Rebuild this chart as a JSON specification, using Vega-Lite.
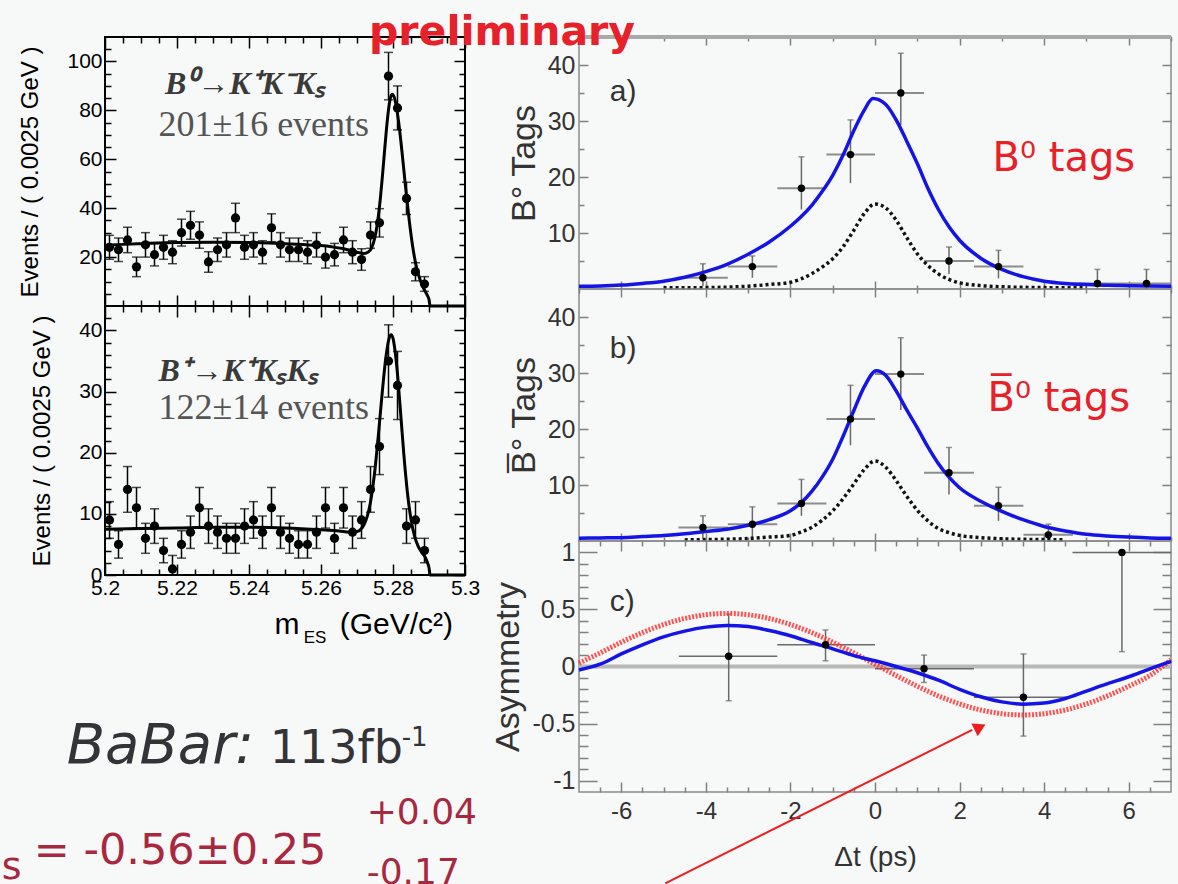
{
"$schema": "https://vega.github.io/schema/vega-lite/v6.json",
"background": "#f6f9f7",
"padding": {"left": 0, "top": 11, "right": 0, "bottom": 0},
"config": {"axis": {"grid": false, "domain": false}},
"datasets": {
"l1pts": [
{"m":5.20125,"n":24,"lo":19.1,"hi":28.9},{"m":5.20375,"n":23,"lo":18.2,"hi":27.8},{"m":5.20625,"n":27,"lo":21.8,"hi":32.2},{"m":5.20875,"n":16,"lo":12,"hi":20},
{"m":5.21125,"n":25,"lo":20,"hi":30},{"m":5.21375,"n":21,"lo":16.4,"hi":25.6},{"m":5.21625,"n":24,"lo":19.1,"hi":28.9},{"m":5.21875,"n":22,"lo":17.3,"hi":26.7},
{"m":5.22125,"n":30,"lo":24.5,"hi":35.5},{"m":5.22375,"n":33,"lo":27.3,"hi":38.7},{"m":5.22625,"n":29,"lo":23.6,"hi":34.4},{"m":5.22875,"n":18,"lo":13.8,"hi":22.2},
{"m":5.23125,"n":23,"lo":18.2,"hi":27.8},{"m":5.23375,"n":25,"lo":20,"hi":30},{"m":5.23625,"n":36,"lo":30,"hi":42},{"m":5.23875,"n":24,"lo":19.1,"hi":28.9},
{"m":5.24125,"n":25,"lo":20,"hi":30},{"m":5.24375,"n":22,"lo":17.3,"hi":26.7},{"m":5.24625,"n":32,"lo":26.3,"hi":37.7},{"m":5.24875,"n":25,"lo":20,"hi":30},
{"m":5.25125,"n":23,"lo":18.2,"hi":27.8},{"m":5.25375,"n":23,"lo":18.2,"hi":27.8},{"m":5.25625,"n":22,"lo":17.3,"hi":26.7},{"m":5.25875,"n":25,"lo":20,"hi":30},
{"m":5.26125,"n":20,"lo":15.5,"hi":24.5},{"m":5.26375,"n":21,"lo":16.4,"hi":25.6},{"m":5.26625,"n":27,"lo":21.8,"hi":32.2},{"m":5.26875,"n":22,"lo":17.3,"hi":26.7},
{"m":5.27125,"n":19,"lo":14.6,"hi":23.4},{"m":5.27375,"n":29,"lo":23.6,"hi":34.4},{"m":5.27625,"n":34,"lo":28.2,"hi":39.8},{"m":5.27875,"n":94,"lo":84.3,"hi":103.7},
{"m":5.28125,"n":81,"lo":72,"hi":90},{"m":5.28375,"n":44,"lo":37.4,"hi":50.6},{"m":5.28625,"n":14,"lo":10.3,"hi":17.7},{"m":5.28875,"n":9,"lo":6,"hi":12}
],
"l1fit": [
{"m":5.2,"f":24.8},{"m":5.205,"f":25.2},{"m":5.21,"f":25.5},{"m":5.22,"f":26.0},{"m":5.23,"f":26.1},{"m":5.24,"f":26.0},{"m":5.25,"f":25.5},{"m":5.255,"f":25.1},
{"m":5.26,"f":24.7},{"m":5.263,"f":24.2},{"m":5.266,"f":23.5},{"m":5.268,"f":22.8},{"m":5.27,"f":22.0},{"m":5.272,"f":21.5},{"m":5.273,"f":22.0},{"m":5.274,"f":23.6},
{"m":5.275,"f":28.2},{"m":5.276,"f":37.5},{"m":5.2765,"f":44.2},{"m":5.277,"f":52.1},{"m":5.2775,"f":60.7},{"m":5.278,"f":69.3},{"m":5.2785,"f":77.0},{"m":5.279,"f":82.9},
{"m":5.2795,"f":86.1},{"m":5.2798,"f":86.6},{"m":5.2805,"f":84.6},{"m":5.2815,"f":76.0},{"m":5.2825,"f":63.0},{"m":5.2835,"f":48.5},{"m":5.2845,"f":35.1},{"m":5.2855,"f":24.0},
{"m":5.2865,"f":16.0},{"m":5.2875,"f":10.8},{"m":5.2885,"f":7.2},{"m":5.2895,"f":4.4},{"m":5.29,"f":2.7},{"m":5.2903,"f":0},{"m":5.3,"f":0}
],
"l2pts": [
{"m":5.20125,"n":9,"lo":6,"hi":12},{"m":5.20375,"n":5,"lo":2.76,"hi":7.24},{"m":5.20625,"n":14,"lo":10.26,"hi":17.74},{"m":5.20875,"n":11,"lo":7.68,"hi":14.32},
{"m":5.21125,"n":6,"lo":3.55,"hi":8.45},{"m":5.21375,"n":8,"lo":5.17,"hi":10.83},{"m":5.21625,"n":4,"lo":2,"hi":6},{"m":5.21875,"n":1,"lo":0,"hi":3.2},
{"m":5.22125,"n":5,"lo":2.76,"hi":7.24},{"m":5.22375,"n":7,"lo":4.35,"hi":9.65},{"m":5.22625,"n":11,"lo":7.68,"hi":14.32},{"m":5.22875,"n":8,"lo":5.17,"hi":10.83},
{"m":5.23125,"n":7,"lo":4.35,"hi":9.65},{"m":5.23375,"n":6,"lo":3.55,"hi":8.45},{"m":5.23625,"n":6,"lo":3.55,"hi":8.45},{"m":5.23875,"n":8,"lo":5.17,"hi":10.83},
{"m":5.24125,"n":9,"lo":6,"hi":12},{"m":5.24375,"n":7,"lo":4.35,"hi":9.65},{"m":5.24625,"n":11,"lo":7.68,"hi":14.32},{"m":5.24875,"n":7,"lo":4.35,"hi":9.65},
{"m":5.25125,"n":6,"lo":3.55,"hi":8.45},{"m":5.25375,"n":5,"lo":2.76,"hi":7.24},{"m":5.25625,"n":5,"lo":2.76,"hi":7.24},{"m":5.25875,"n":7,"lo":4.35,"hi":9.65},
{"m":5.26125,"n":11,"lo":7.68,"hi":14.32},{"m":5.26375,"n":6,"lo":3.55,"hi":8.45},{"m":5.26625,"n":11,"lo":7.68,"hi":14.32},{"m":5.26875,"n":7,"lo":4.35,"hi":9.65},
{"m":5.27125,"n":9,"lo":6,"hi":12},{"m":5.27375,"n":14,"lo":10.26,"hi":17.74},{"m":5.27625,"n":21,"lo":16.42,"hi":25.58},{"m":5.27875,"n":35,"lo":29.08,"hi":40.92},
{"m":5.28125,"n":31,"lo":25.43,"hi":36.57},{"m":5.28375,"n":8,"lo":5.17,"hi":10.83},{"m":5.28625,"n":9,"lo":6,"hi":12},{"m":5.28875,"n":4,"lo":2,"hi":6}
],
"l2fit": [
{"m":5.2,"f":7.5},{"m":5.21,"f":7.6},{"m":5.22,"f":7.7},{"m":5.23,"f":7.8},{"m":5.24,"f":7.8},{"m":5.25,"f":7.7},{"m":5.26,"f":7.4},{"m":5.265,"f":7.2},
{"m":5.268,"f":7.0},{"m":5.27,"f":7.1},{"m":5.272,"f":8.3},{"m":5.273,"f":9.9},{"m":5.274,"f":12.8},{"m":5.275,"f":17.3},{"m":5.276,"f":23.3},{"m":5.277,"f":29.8},
{"m":5.278,"f":35.5},{"m":5.279,"f":38.9},{"m":5.2795,"f":39.3},{"m":5.28,"f":38.7},{"m":5.281,"f":34.4},{"m":5.282,"f":27.4},{"m":5.283,"f":19.8},{"m":5.284,"f":13.5},
{"m":5.285,"f":9.1},{"m":5.286,"f":6.3},{"m":5.287,"f":4.7},{"m":5.288,"f":3.7},{"m":5.289,"f":2.85},{"m":5.2897,"f":1.8},{"m":5.29,"f":1.2},{"m":5.2903,"f":0},{"m":5.3,"f":0}
],
"rapts": [
{"t":-4.07,"n":2,"tlo":-4.65,"thi":-3.48,"lo":0.5,"hi":4.5},{"t":-2.9,"n":4,"tlo":-3.48,"thi":-2.31,"lo":2.0,"hi":5.9},
{"t":-1.74,"n":18,"tlo":-2.31,"thi":-1.15,"lo":14.2,"hi":23.6},{"t":-0.58,"n":24,"tlo":-1.15,"thi":0,"lo":18.9,"hi":30.2},
{"t":0.61,"n":35,"tlo":0,"thi":1.16,"lo":29.3,"hi":42.1},{"t":1.75,"n":5,"tlo":1.16,"thi":2.34,"lo":2.7,"hi":7.5},
{"t":2.92,"n":4,"tlo":2.34,"thi":3.51,"lo":1.9,"hi":6.9},{"t":5.26,"n":1,"tlo":4.68,"thi":5.84,"lo":0,"hi":3.5},
{"t":6.42,"n":1,"tlo":5.84,"thi":7.0,"lo":0,"hi":3.5}
],
"rafit": [
{"t":-7,"f":0.5},{"t":-6.5,"f":0.55},{"t":-6,"f":0.7},{"t":-5.5,"f":1.0},{"t":-5,"f":1.4},{"t":-4.5,"f":2.1},{"t":-4,"f":3.1},{"t":-3.5,"f":4.4},
{"t":-3,"f":6.2},{"t":-2.5,"f":8.4},{"t":-2,"f":11.2},{"t":-1.75,"f":12.9},{"t":-1.5,"f":14.9},{"t":-1.25,"f":17.4},{"t":-1,"f":20.3},{"t":-0.75,"f":24.0},
{"t":-0.5,"f":28.3},{"t":-0.25,"f":32.0},{"t":-0.05,"f":34.0},{"t":0.25,"f":33.0},{"t":0.5,"f":30.2},{"t":0.75,"f":26.4},{"t":1,"f":22.4},{"t":1.25,"f":18.0},
{"t":1.5,"f":14.2},{"t":1.75,"f":11.1},{"t":2,"f":8.7},{"t":2.5,"f":5.5},{"t":3,"f":3.5},{"t":3.5,"f":2.2},{"t":4,"f":1.4},{"t":4.5,"f":1.0},
{"t":5,"f":0.8},{"t":5.5,"f":0.65},{"t":6,"f":0.6},{"t":7,"f":0.5}
],
"radot": [
{"t":-5,"f":0.2},{"t":-4,"f":0.25},{"t":-3,"f":0.5},{"t":-2.5,"f":0.8},{"t":-2,"f":1.2},{"t":-1.75,"f":1.8},{"t":-1.5,"f":2.7},{"t":-1.25,"f":3.9},
{"t":-1,"f":5.4},{"t":-0.75,"f":7.6},{"t":-0.5,"f":10.5},{"t":-0.25,"f":13.5},{"t":0,"f":15.2},{"t":0.25,"f":14.5},{"t":0.5,"f":12.3},{"t":0.75,"f":9.2},
{"t":1,"f":6.3},{"t":1.25,"f":4.2},{"t":1.5,"f":2.7},{"t":1.75,"f":1.7},{"t":2,"f":1.1},{"t":2.5,"f":0.6},{"t":3,"f":0.4},{"t":4,"f":0.25},{"t":5,"f":0.2}
],
"rbpts": [
{"t":-4.07,"n":2.4,"tlo":-4.65,"thi":-3.48,"lo":0.4,"hi":4.5},{"t":-2.9,"n":3,"tlo":-3.48,"thi":-2.31,"lo":0.4,"hi":6.1},
{"t":-1.74,"n":6.7,"tlo":-2.31,"thi":-1.15,"lo":4.5,"hi":11},{"t":-0.58,"n":21.8,"tlo":-1.15,"thi":0,"lo":17.1,"hi":27.8},
{"t":0.61,"n":29.8,"tlo":0,"thi":1.16,"lo":23.4,"hi":36.3},{"t":1.75,"n":12.2,"tlo":1.16,"thi":2.34,"lo":8.3,"hi":16.7},
{"t":2.92,"n":6.3,"tlo":2.34,"thi":3.51,"lo":3.6,"hi":9.6},{"t":4.1,"n":1.1,"tlo":3.51,"thi":4.68,"lo":0,"hi":3.0}
],
"rbfit": [
{"t":-7,"f":0.5},{"t":-6.5,"f":0.55},{"t":-6,"f":0.6},{"t":-5.5,"f":0.8},{"t":-5,"f":1.0},{"t":-4.5,"f":1.3},{"t":-4,"f":1.7},{"t":-3.5,"f":2.1},
{"t":-3,"f":2.8},{"t":-2.5,"f":3.8},{"t":-2,"f":5.4},{"t":-1.75,"f":6.8},{"t":-1.5,"f":8.8},{"t":-1.25,"f":11.4},{"t":-1,"f":14.6},{"t":-0.75,"f":18.8},
{"t":-0.5,"f":23.3},{"t":-0.25,"f":27.6},{"t":0.03,"f":30.4},{"t":0.25,"f":29.6},{"t":0.5,"f":26.8},{"t":0.75,"f":23.4},{"t":1,"f":20.2},{"t":1.25,"f":16.8},
{"t":1.5,"f":13.8},{"t":1.75,"f":11.4},{"t":2,"f":9.5},{"t":2.5,"f":7.1},{"t":3,"f":5.3},{"t":3.5,"f":3.8},{"t":4,"f":2.6},{"t":4.5,"f":1.8},
{"t":5,"f":1.2},{"t":5.5,"f":0.9},{"t":6,"f":0.7},{"t":6.5,"f":0.55},{"t":7,"f":0.5}
],
"rbdot": [
{"t":-4.5,"f":0.2},{"t":-4,"f":0.25},{"t":-3,"f":0.45},{"t":-2.5,"f":0.7},{"t":-2,"f":1.0},{"t":-1.75,"f":1.6},{"t":-1.5,"f":2.4},{"t":-1.25,"f":3.7},
{"t":-1,"f":5.4},{"t":-0.75,"f":7.6},{"t":-0.5,"f":10.2},{"t":-0.25,"f":12.8},{"t":0,"f":14.3},{"t":0.25,"f":13.2},{"t":0.5,"f":10.8},{"t":0.75,"f":8.0},
{"t":1,"f":5.5},{"t":1.25,"f":3.6},{"t":1.5,"f":2.2},{"t":1.75,"f":1.5},{"t":2,"f":1.0},{"t":2.5,"f":0.6},{"t":3,"f":0.4},{"t":4,"f":0.25},{"t":4.5,"f":0.2}
],
"rcpts": [
{"t":-3.46,"a":0.09,"tlo":-4.64,"thi":-2.31,"lo":-0.30,"hi":0.46},{"t":-1.17,"a":0.19,"tlo":-2.31,"thi":0,"lo":0.05,"hi":0.32},
{"t":1.16,"a":-0.02,"tlo":0,"thi":2.34,"lo":-0.14,"hi":0.10},{"t":3.51,"a":-0.27,"tlo":2.34,"thi":4.67,"lo":-0.61,"hi":0.11},
{"t":5.84,"a":1.0,"tlo":4.67,"thi":7.0,"lo":0.13,"hi":1.0}
],
"rcblue": [
{"t":-7,"a":-0.03},{"t":-6.5,"a":0.02},{"t":-6,"a":0.11},{"t":-5.5,"a":0.19},{"t":-5,"a":0.26},{"t":-4.5,"a":0.31},{"t":-4,"a":0.345},{"t":-3.5,"a":0.36},
{"t":-3,"a":0.35},{"t":-2.5,"a":0.315},{"t":-2,"a":0.27},{"t":-1.5,"a":0.21},{"t":-1,"a":0.155},{"t":-0.5,"a":0.095},{"t":0,"a":0.05},{"t":0.5,"a":0.0},
{"t":1,"a":-0.055},{"t":1.5,"a":-0.12},{"t":2,"a":-0.2},{"t":2.5,"a":-0.265},{"t":3,"a":-0.31},{"t":3.5,"a":-0.33},{"t":4,"a":-0.32},{"t":4.5,"a":-0.28},
{"t":5,"a":-0.215},{"t":5.5,"a":-0.15},{"t":6,"a":-0.09},{"t":6.5,"a":-0.02},{"t":7,"a":0.045}
],
"rcred": [
{"t":-7,"a":0.03},{"t":-6.5,"a":0.119},{"t":-6,"a":0.213},{"t":-5.5,"a":0.297},{"t":-5,"a":0.368},{"t":-4.5,"a":0.421},{"t":-4,"a":0.454},{"t":-3.5,"a":0.465},
{"t":-3,"a":0.454},{"t":-2.5,"a":0.421},{"t":-2,"a":0.368},{"t":-1.5,"a":0.298},{"t":-1,"a":0.213},{"t":-0.5,"a":0.119},{"t":0,"a":0.02},{"t":0.5,"a":-0.079},
{"t":1,"a":-0.173},{"t":1.5,"a":-0.258},{"t":2,"a":-0.328},{"t":2.5,"a":-0.381},{"t":3,"a":-0.414},{"t":3.5,"a":-0.425},{"t":4,"a":-0.414},{"t":4.5,"a":-0.381},
{"t":5,"a":-0.328},{"t":5.5,"a":-0.257},{"t":6,"a":-0.173},{"t":6.5,"a":-0.079},{"t":7,"a":0.06}
]
},
"hconcat": [
{"vconcat": [
{"width": 360, "height": 269,
 "view": {"stroke": "#000", "strokeWidth": 2},
 "resolve": {"axis": {"x": "independent", "y": "independent"}},
 "layer": [
  {"data": {"name": "l1fit"}, "mark": {"type": "line", "color": "#000", "strokeWidth": 3, "interpolate": "monotone"},
   "encoding": {
    "x": {"field": "m", "type": "quantitative", "scale": {"domain": [5.2, 5.3], "nice": false, "zero": false},
      "axis": {"orient": "bottom", "values": [5.2,5.22,5.24,5.26,5.28,5.3], "tickSize": -11, "tickColor": "#000", "tickWidth": 1.5, "labels": false, "title": null}},
    "y": {"field": "f", "type": "quantitative", "scale": {"domain": [0, 110], "nice": false, "zero": false},
      "axis": {"orient": "left", "values": [20,40,60,80,100], "tickSize": -11, "tickColor": "#000", "tickWidth": 1.5, "labelPadding": 14, "labelFont": "Liberation Sans", "labelFontSize": 21, "labelColor": "#000", "labelFlush": false, "labelOverlap": false,
       "title": "Events / ( 0.0025 GeV )", "titleFont": "Liberation Sans", "titleFontSize": 24, "titleFontWeight": "normal", "titleColor": "#000", "titlePadding": 24}}}},
  {"data": {"name": "l1pts"}, "mark": {"type": "rule", "color": "#000", "strokeWidth": 1.5},
   "encoding": {
    "x": {"field": "m", "type": "quantitative", "scale": {"domain": [5.2, 5.3], "nice": false, "zero": false},
      "axis": {"orient": "bottom", "values": [5.205,5.21,5.215,5.225,5.23,5.235,5.245,5.25,5.255,5.265,5.27,5.275,5.285,5.29,5.295], "tickSize": -6, "tickColor": "#000", "tickWidth": 1.5, "labels": false, "title": null}},
    "y": {"field": "lo", "type": "quantitative", "scale": {"domain": [0, 110], "nice": false, "zero": false},
      "axis": {"orient": "left", "values": [5,10,15,25,30,35,45,50,55,65,70,75,85,90,95,105], "tickSize": -6, "tickColor": "#000", "tickWidth": 1.5, "labels": false, "title": null}},
    "y2": {"field": "hi"}}},
  {"data": {"name": "l1pts"}, "mark": {"type": "tick", "orient": "horizontal", "color": "#000", "size": 9, "thickness": 1.5},
   "encoding": {
    "x": {"field": "m", "type": "quantitative", "scale": {"domain": [5.2, 5.3], "nice": false, "zero": false},
      "axis": {"orient": "top", "values": [5.2,5.22,5.24,5.26,5.28,5.3], "tickSize": -11, "tickColor": "#000", "tickWidth": 1.5, "labels": false, "title": null}},
    "y": {"field": "lo", "type": "quantitative", "scale": {"domain": [0, 110], "nice": false, "zero": false},
      "axis": {"orient": "right", "values": [20,40,60,80,100], "tickSize": -11, "tickColor": "#000", "tickWidth": 1.5, "labels": false, "title": null}}}},
  {"data": {"name": "l1pts"}, "mark": {"type": "tick", "orient": "horizontal", "color": "#000", "size": 9, "thickness": 1.5},
   "encoding": {
    "x": {"field": "m", "type": "quantitative", "scale": {"domain": [5.2, 5.3], "nice": false, "zero": false},
      "axis": {"orient": "top", "values": [5.205,5.21,5.215,5.225,5.23,5.235,5.245,5.25,5.255,5.265,5.27,5.275,5.285,5.29,5.295], "tickSize": -6, "tickColor": "#000", "tickWidth": 1.5, "labels": false, "title": null}},
    "y": {"field": "hi", "type": "quantitative", "scale": {"domain": [0, 110], "nice": false, "zero": false},
      "axis": {"orient": "right", "values": [5,10,15,25,30,35,45,50,55,65,70,75,85,90,95,105], "tickSize": -6, "tickColor": "#000", "tickWidth": 1.5, "labels": false, "title": null}}}},
  {"data": {"name": "l1pts"}, "mark": {"type": "point", "filled": true, "color": "#000", "opacity": 1, "size": 85},
   "encoding": {
    "x": {"field": "m", "type": "quantitative", "scale": {"domain": [5.2, 5.3], "nice": false, "zero": false}, "axis": null},
    "y": {"field": "n", "type": "quantitative", "scale": {"domain": [0, 110], "nice": false, "zero": false}, "axis": null}}},
  {"data": {"values": [{"t": "B\u2070\u2192K\u207aK\u207bK\u209b"}]}, "mark": {"type": "text", "align": "left", "baseline": "alphabetic", "font": "Liberation Serif", "fontSize": 32, "fontStyle": "italic", "fontWeight": "bold", "color": "#3a3a3a"},
   "encoding": {"x": {"datum": 5.21667, "type": "quantitative", "scale": {"domain": [5.2, 5.3], "nice": false, "zero": false}, "axis": null},
    "y": {"datum": 86.8, "type": "quantitative", "scale": {"domain": [0, 110], "nice": false, "zero": false}, "axis": null}, "text": {"field": "t"}}},
  {"data": {"values": [{"t": "201\u00b116 events"}]}, "mark": {"type": "text", "align": "left", "baseline": "alphabetic", "font": "Liberation Serif", "fontSize": 36, "color": "#555"},
   "encoding": {"x": {"datum": 5.21483, "type": "quantitative", "scale": {"domain": [5.2, 5.3], "nice": false, "zero": false}, "axis": null},
    "y": {"datum": 69.7, "type": "quantitative", "scale": {"domain": [0, 110], "nice": false, "zero": false}, "axis": null}, "text": {"field": "t"}}}
 ]},
{"width": 360, "height": 269,
 "view": {"stroke": "#000", "strokeWidth": 2},
 "resolve": {"axis": {"x": "independent", "y": "independent"}},
 "layer": [
  {"data": {"name": "l2fit"}, "mark": {"type": "line", "color": "#000", "strokeWidth": 3, "interpolate": "monotone"},
   "encoding": {
    "x": {"field": "m", "type": "quantitative", "scale": {"domain": [5.2, 5.3], "nice": false, "zero": false},
      "axis": {"orient": "bottom", "values": [5.2,5.22,5.24,5.26,5.28,5.3], "tickSize": -11, "tickColor": "#000", "tickWidth": 1.5, "labelPadding": 13, "labelFont": "Liberation Sans", "labelFontSize": 21, "labelColor": "#000", "labelFlush": false, "labelOverlap": false, "labelExpr": "format(datum.value, '.2~f')", "title": null}},
    "y": {"field": "f", "type": "quantitative", "scale": {"domain": [0, 44], "nice": false, "zero": false},
      "axis": {"orient": "left", "values": [0,10,20,30,40], "tickSize": -11, "tickColor": "#000", "tickWidth": 1.5, "labelPadding": 14, "labelFont": "Liberation Sans", "labelFontSize": 21, "labelColor": "#000", "labelFlush": false, "labelOverlap": false,
       "title": "Events / ( 0.0025 GeV )", "titleFont": "Liberation Sans", "titleFontSize": 24, "titleFontWeight": "normal", "titleColor": "#000", "titlePadding": 24}}}},
  {"data": {"name": "l2pts"}, "mark": {"type": "rule", "color": "#000", "strokeWidth": 1.5},
   "encoding": {
    "x": {"field": "m", "type": "quantitative", "scale": {"domain": [5.2, 5.3], "nice": false, "zero": false},
      "axis": {"orient": "bottom", "values": [5.205,5.21,5.215,5.225,5.23,5.235,5.245,5.25,5.255,5.265,5.27,5.275,5.285,5.29,5.295], "tickSize": -6, "tickColor": "#000", "tickWidth": 1.5, "labels": false, "title": null}},
    "y": {"field": "lo", "type": "quantitative", "scale": {"domain": [0, 44], "nice": false, "zero": false},
      "axis": {"orient": "left", "values": [2,4,6,8,12,14,16,18,22,24,26,28,32,34,36,38,42], "tickSize": -6, "tickColor": "#000", "tickWidth": 1.5, "labels": false, "title": null}},
    "y2": {"field": "hi"}}},
  {"data": {"name": "l2pts"}, "mark": {"type": "tick", "orient": "horizontal", "color": "#000", "size": 9, "thickness": 1.5},
   "encoding": {
    "x": {"field": "m", "type": "quantitative", "scale": {"domain": [5.2, 5.3], "nice": false, "zero": false},
      "axis": {"orient": "top", "values": [5.2,5.22,5.24,5.26,5.28,5.3], "tickSize": -11, "tickColor": "#000", "tickWidth": 1.5, "labels": false, "title": null}},
    "y": {"field": "lo", "type": "quantitative", "scale": {"domain": [0, 44], "nice": false, "zero": false},
      "axis": {"orient": "right", "values": [0,10,20,30,40], "tickSize": -11, "tickColor": "#000", "tickWidth": 1.5, "labels": false, "title": null}}}},
  {"data": {"name": "l2pts"}, "mark": {"type": "tick", "orient": "horizontal", "color": "#000", "size": 9, "thickness": 1.5},
   "encoding": {
    "x": {"field": "m", "type": "quantitative", "scale": {"domain": [5.2, 5.3], "nice": false, "zero": false},
      "axis": {"orient": "top", "values": [5.205,5.21,5.215,5.225,5.23,5.235,5.245,5.25,5.255,5.265,5.27,5.275,5.285,5.29,5.295], "tickSize": -6, "tickColor": "#000", "tickWidth": 1.5, "labels": false, "title": null}},
    "y": {"field": "hi", "type": "quantitative", "scale": {"domain": [0, 44], "nice": false, "zero": false},
      "axis": {"orient": "right", "values": [2,4,6,8,12,14,16,18,22,24,26,28,32,34,36,38,42], "tickSize": -6, "tickColor": "#000", "tickWidth": 1.5, "labels": false, "title": null}}}},
  {"data": {"name": "l2pts"}, "mark": {"type": "point", "filled": true, "color": "#000", "opacity": 1, "size": 85},
   "encoding": {
    "x": {"field": "m", "type": "quantitative", "scale": {"domain": [5.2, 5.3], "nice": false, "zero": false}, "axis": null},
    "y": {"field": "n", "type": "quantitative", "scale": {"domain": [0, 44], "nice": false, "zero": false}, "axis": null}}},
  {"data": {"values": [{"t": "B\u207a\u2192K\u207aK\u209bK\u209b"}]}, "mark": {"type": "text", "align": "left", "baseline": "alphabetic", "font": "Liberation Serif", "fontSize": 32, "fontStyle": "italic", "fontWeight": "bold", "color": "#3a3a3a"},
   "encoding": {"x": {"datum": 5.21483, "type": "quantitative", "scale": {"domain": [5.2, 5.3], "nice": false, "zero": false}, "axis": null},
    "y": {"datum": 31.8, "type": "quantitative", "scale": {"domain": [0, 44], "nice": false, "zero": false}, "axis": null}, "text": {"field": "t"}}},
  {"data": {"values": [{"t": "122\u00b114 events"}]}, "mark": {"type": "text", "align": "left", "baseline": "alphabetic", "font": "Liberation Serif", "fontSize": 36, "color": "#555"},
   "encoding": {"x": {"datum": 5.21483, "type": "quantitative", "scale": {"domain": [5.2, 5.3], "nice": false, "zero": false}, "axis": null},
    "y": {"datum": 25.5, "type": "quantitative", "scale": {"domain": [0, 44], "nice": false, "zero": false}, "axis": null}, "text": {"field": "t"}}},
  {"data": {"values": [{"t": "m"}]}, "mark": {"type": "text", "align": "left", "baseline": "alphabetic", "font": "Liberation Sans", "fontSize": 30, "color": "#000"},
   "encoding": {"x": {"datum": 5.2471, "type": "quantitative", "scale": {"domain": [5.2, 5.3], "nice": false, "zero": false}, "axis": null},
    "y": {"datum": -9.67, "type": "quantitative", "scale": {"domain": [0, 44], "nice": false, "zero": false}, "axis": null}, "text": {"field": "t"}}},
  {"data": {"values": [{"t": "ES"}]}, "mark": {"type": "text", "align": "left", "baseline": "alphabetic", "font": "Liberation Sans", "fontSize": 17, "color": "#000"},
   "encoding": {"x": {"datum": 5.2552, "type": "quantitative", "scale": {"domain": [5.2, 5.3], "nice": false, "zero": false}, "axis": null},
    "y": {"datum": -11.15, "type": "quantitative", "scale": {"domain": [0, 44], "nice": false, "zero": false}, "axis": null}, "text": {"field": "t"}}},
  {"data": {"values": [{"t": "(GeV/c\u00b2)"}]}, "mark": {"type": "text", "align": "left", "baseline": "alphabetic", "font": "Liberation Sans", "fontSize": 30, "color": "#000"},
   "encoding": {"x": {"datum": 5.2652, "type": "quantitative", "scale": {"domain": [5.2, 5.3], "nice": false, "zero": false}, "axis": null},
    "y": {"datum": -9.67, "type": "quantitative", "scale": {"domain": [0, 44], "nice": false, "zero": false}, "axis": null}, "text": {"field": "t"}}},
  {"data": {"values": [{"t": "BaBar:"}]}, "mark": {"type": "text", "align": "left", "baseline": "alphabetic", "font": "DejaVu Sans", "fontSize": 56, "fontStyle": "italic", "color": "#333338"},
   "encoding": {"x": {"datum": 5.18936, "type": "quantitative", "scale": {"domain": [5.2, 5.3], "nice": false, "zero": false}, "axis": null},
    "y": {"datum": -30.8, "type": "quantitative", "scale": {"domain": [0, 44], "nice": false, "zero": false}, "axis": null}, "text": {"field": "t"}}},
  {"data": {"values": [{"t": "113fb"}]}, "mark": {"type": "text", "align": "left", "baseline": "alphabetic", "font": "DejaVu Sans", "fontSize": 46, "color": "#333338"},
   "encoding": {"x": {"datum": 5.24575, "type": "quantitative", "scale": {"domain": [5.2, 5.3], "nice": false, "zero": false}, "axis": null},
    "y": {"datum": -30.8, "type": "quantitative", "scale": {"domain": [0, 44], "nice": false, "zero": false}, "axis": null}, "text": {"field": "t"}}},
  {"data": {"values": [{"t": "-1"}]}, "mark": {"type": "text", "align": "left", "baseline": "alphabetic", "font": "DejaVu Sans", "fontSize": 26, "color": "#333338"},
   "encoding": {"x": {"datum": 5.28242, "type": "quantitative", "scale": {"domain": [5.2, 5.3], "nice": false, "zero": false}, "axis": null},
    "y": {"datum": -28.0, "type": "quantitative", "scale": {"domain": [0, 44], "nice": false, "zero": false}, "axis": null}, "text": {"field": "t"}}},
  {"data": {"values": [{"t": "s"}]}, "mark": {"type": "text", "align": "left", "baseline": "alphabetic", "font": "DejaVu Sans", "fontSize": 38, "color": "#a8283f"},
   "encoding": {"x": {"datum": 5.17131, "type": "quantitative", "scale": {"domain": [5.2, 5.3], "nice": false, "zero": false}, "axis": null},
    "y": {"datum": -49.7, "type": "quantitative", "scale": {"domain": [0, 44], "nice": false, "zero": false}, "axis": null}, "text": {"field": "t"}}},
  {"data": {"values": [{"t": "= -0.56\u00b10.25"}]}, "mark": {"type": "text", "align": "left", "baseline": "alphabetic", "font": "DejaVu Sans", "fontSize": 43, "color": "#a8283f"},
   "encoding": {"x": {"datum": 5.18019, "type": "quantitative", "scale": {"domain": [5.2, 5.3], "nice": false, "zero": false}, "axis": null},
    "y": {"datum": -47.2, "type": "quantitative", "scale": {"domain": [0, 44], "nice": false, "zero": false}, "axis": null}, "text": {"field": "t"}}},
  {"data": {"values": [{"t": "+0.04"}]}, "mark": {"type": "text", "align": "left", "baseline": "alphabetic", "font": "DejaVu Sans", "fontSize": 36, "color": "#a8283f"},
   "encoding": {"x": {"datum": 5.27269, "type": "quantitative", "scale": {"domain": [5.2, 5.3], "nice": false, "zero": false}, "axis": null},
    "y": {"datum": -40.7, "type": "quantitative", "scale": {"domain": [0, 44], "nice": false, "zero": false}, "axis": null}, "text": {"field": "t"}}},
  {"data": {"values": [{"t": "-0.17"}]}, "mark": {"type": "text", "align": "left", "baseline": "alphabetic", "font": "DejaVu Sans", "fontSize": 36, "color": "#a8283f"},
   "encoding": {"x": {"datum": 5.27269, "type": "quantitative", "scale": {"domain": [5.2, 5.3], "nice": false, "zero": false}, "axis": null},
    "y": {"datum": -50.5, "type": "quantitative", "scale": {"domain": [0, 44], "nice": false, "zero": false}, "axis": null}, "text": {"field": "t"}}}
 ]}
], "spacing": 0, "bounds": "flush"},
{"vconcat": [
{"width": 592, "height": 252,
 "view": {"stroke": "#8a8a8a", "strokeWidth": 1.5},
 "resolve": {"axis": {"x": "independent", "y": "independent"}},
 "layer": [
  {"data": {"values": [{"k": 1}]}, "mark": {"type": "rule", "color": "#a9a9a9", "strokeWidth": 4},
   "encoding": {"y": {"datum": 45, "type": "quantitative", "scale": {"domain": [0, 45], "nice": false, "zero": false}, "axis": null}}},
  {"data": {"name": "rapts"}, "mark": {"type": "rule", "color": "#8c8c8c", "strokeWidth": 2},
   "encoding": {
    "x": {"field": "tlo", "type": "quantitative", "scale": {"domain": [-7, 7], "nice": false, "zero": false},
      "axis": {"orient": "top", "values": [-6,-4,-2,0,2,4,6], "tickSize": -8, "tickColor": "#808080", "tickWidth": 1.5, "labels": false, "title": null}},
    "x2": {"field": "thi"},
    "y": {"field": "n", "type": "quantitative", "scale": {"domain": [0, 45], "nice": false, "zero": false},
      "axis": {"orient": "right", "values": [10,20,30,40], "tickSize": -9, "tickColor": "#808080", "tickWidth": 1.5, "labels": false, "title": null}}}},
  {"data": {"name": "rapts"}, "mark": {"type": "rule", "color": "#6a6a6a", "strokeWidth": 1.5},
   "encoding": {
    "x": {"field": "t", "type": "quantitative", "scale": {"domain": [-7, 7], "nice": false, "zero": false},
      "axis": {"orient": "top", "values": [-7,-5,-3,-1,1,3,5,7], "tickSize": -4, "tickColor": "#808080", "tickWidth": 1.5, "labels": false, "title": null}},
    "y": {"field": "lo", "type": "quantitative", "scale": {"domain": [0, 45], "nice": false, "zero": false},
      "axis": {"orient": "right", "values": [5,15,25,35], "tickSize": -5, "tickColor": "#808080", "tickWidth": 1.5, "labels": false, "title": null}},
    "y2": {"field": "hi"}}},
  {"data": {"name": "rapts"}, "mark": {"type": "tick", "orient": "horizontal", "color": "#6a6a6a", "size": 6, "thickness": 1.5},
   "encoding": {
    "x": {"field": "t", "type": "quantitative", "scale": {"domain": [-7, 7], "nice": false, "zero": false}, "axis": null},
    "y": {"field": "hi", "type": "quantitative", "scale": {"domain": [0, 45], "nice": false, "zero": false}, "axis": null}}},
  {"data": {"name": "radot"}, "mark": {"type": "line", "color": "#111", "strokeWidth": 3.5, "strokeDash": [3, 3], "interpolate": "monotone"},
   "encoding": {
    "x": {"field": "t", "type": "quantitative", "scale": {"domain": [-7, 7], "nice": false, "zero": false},
      "axis": {"orient": "bottom", "values": [-7,-5,-3,-1,1,3,5,7], "tickSize": -4, "tickColor": "#808080", "tickWidth": 1.5, "labels": false, "title": null}},
    "y": {"field": "f", "type": "quantitative", "scale": {"domain": [0, 45], "nice": false, "zero": false},
      "axis": {"orient": "left", "values": [5,15,25,35], "tickSize": -5, "tickColor": "#808080", "tickWidth": 1.5, "labels": false, "title": null}}}},
  {"data": {"name": "rafit"}, "mark": {"type": "line", "color": "#1414e6", "strokeWidth": 3.5, "interpolate": "monotone"},
   "encoding": {
    "x": {"field": "t", "type": "quantitative", "scale": {"domain": [-7, 7], "nice": false, "zero": false},
      "axis": {"orient": "bottom", "values": [-6,-4,-2,0,2,4,6], "tickSize": -8, "tickColor": "#808080", "tickWidth": 1.5, "labels": false, "title": null}},
    "y": {"field": "f", "type": "quantitative", "scale": {"domain": [0, 45], "nice": false, "zero": false},
      "axis": {"orient": "left", "values": [10,20,30,40], "tickSize": -9, "tickColor": "#808080", "tickWidth": 1.5, "labelPadding": 13, "labelFont": "Liberation Sans Narrow, Liberation Sans", "labelFontSize": 25, "labelColor": "#333", "labelFlush": false, "labelOverlap": false,
       "title": "B\u00b0 Tags", "titleFont": "Liberation Sans", "titleFontSize": 34, "titleFontWeight": "normal", "titleColor": "#333", "titlePadding": 6}}}},
  {"data": {"name": "rapts"}, "mark": {"type": "point", "filled": true, "color": "#000", "opacity": 1, "size": 55},
   "encoding": {
    "x": {"field": "t", "type": "quantitative", "scale": {"domain": [-7, 7], "nice": false, "zero": false}, "axis": null},
    "y": {"field": "n", "type": "quantitative", "scale": {"domain": [0, 45], "nice": false, "zero": false}, "axis": null}}},
  {"data": {"values": [{"t": "a)"}]}, "mark": {"type": "text", "align": "left", "baseline": "alphabetic", "font": "Liberation Sans Narrow, Liberation Sans", "fontSize": 30, "color": "#333"},
   "encoding": {"x": {"datum": -6.27, "type": "quantitative", "scale": {"domain": [-7, 7], "nice": false, "zero": false}, "axis": null},
    "y": {"datum": 33.6, "type": "quantitative", "scale": {"domain": [0, 45], "nice": false, "zero": false}, "axis": null}, "text": {"field": "t"}}},
  {"data": {"values": [{"t": "B\u2070 tags"}]}, "mark": {"type": "text", "align": "left", "baseline": "alphabetic", "font": "DejaVu Sans", "fontSize": 40, "color": "#e8202a"},
   "encoding": {"x": {"datum": 2.78, "type": "quantitative", "scale": {"domain": [-7, 7], "nice": false, "zero": false}, "axis": null},
    "y": {"datum": 21.1, "type": "quantitative", "scale": {"domain": [0, 45], "nice": false, "zero": false}, "axis": null}, "text": {"field": "t"}}},
  {"data": {"values": [{"t": "preliminary"}]}, "mark": {"type": "text", "align": "center", "baseline": "alphabetic", "font": "DejaVu Sans", "fontSize": 41, "fontWeight": "bold", "color": "#e8202a"},
   "encoding": {"x": {"datum": -8.82, "type": "quantitative", "scale": {"domain": [-7, 7], "nice": false, "zero": false}, "axis": null},
    "y": {"datum": 43.57, "type": "quantitative", "scale": {"domain": [0, 45], "nice": false, "zero": false}, "axis": null}, "text": {"field": "t"}}}
 ]},
{"width": 592, "height": 252,
 "view": {"stroke": "#8a8a8a", "strokeWidth": 1.5},
 "resolve": {"axis": {"x": "independent", "y": "independent"}},
 "layer": [
  {"data": {"name": "rbpts"}, "mark": {"type": "rule", "color": "#8c8c8c", "strokeWidth": 2},
   "encoding": {
    "x": {"field": "tlo", "type": "quantitative", "scale": {"domain": [-7, 7], "nice": false, "zero": false},
      "axis": {"orient": "top", "values": [-6,-4,-2,0,2,4,6], "tickSize": -8, "tickColor": "#808080", "tickWidth": 1.5, "labels": false, "title": null}},
    "x2": {"field": "thi"},
    "y": {"field": "n", "type": "quantitative", "scale": {"domain": [0, 45], "nice": false, "zero": false},
      "axis": {"orient": "right", "values": [10,20,30,40], "tickSize": -9, "tickColor": "#808080", "tickWidth": 1.5, "labels": false, "title": null}}}},
  {"data": {"name": "rbpts"}, "mark": {"type": "rule", "color": "#6a6a6a", "strokeWidth": 1.5},
   "encoding": {
    "x": {"field": "t", "type": "quantitative", "scale": {"domain": [-7, 7], "nice": false, "zero": false},
      "axis": {"orient": "top", "values": [-7,-5,-3,-1,1,3,5,7], "tickSize": -4, "tickColor": "#808080", "tickWidth": 1.5, "labels": false, "title": null}},
    "y": {"field": "lo", "type": "quantitative", "scale": {"domain": [0, 45], "nice": false, "zero": false},
      "axis": {"orient": "right", "values": [5,15,25,35], "tickSize": -5, "tickColor": "#808080", "tickWidth": 1.5, "labels": false, "title": null}},
    "y2": {"field": "hi"}}},
  {"data": {"name": "rbpts"}, "mark": {"type": "tick", "orient": "horizontal", "color": "#6a6a6a", "size": 6, "thickness": 1.5},
   "encoding": {
    "x": {"field": "t", "type": "quantitative", "scale": {"domain": [-7, 7], "nice": false, "zero": false}, "axis": null},
    "y": {"field": "hi", "type": "quantitative", "scale": {"domain": [0, 45], "nice": false, "zero": false}, "axis": null}}},
  {"data": {"name": "rbdot"}, "mark": {"type": "line", "color": "#111", "strokeWidth": 3.5, "strokeDash": [3, 3], "interpolate": "monotone"},
   "encoding": {
    "x": {"field": "t", "type": "quantitative", "scale": {"domain": [-7, 7], "nice": false, "zero": false},
      "axis": {"orient": "bottom", "values": [-7,-5,-3,-1,1,3,5,7], "tickSize": -4, "tickColor": "#808080", "tickWidth": 1.5, "labels": false, "title": null}},
    "y": {"field": "f", "type": "quantitative", "scale": {"domain": [0, 45], "nice": false, "zero": false},
      "axis": {"orient": "left", "values": [5,15,25,35], "tickSize": -5, "tickColor": "#808080", "tickWidth": 1.5, "labels": false, "title": null}}}},
  {"data": {"name": "rbfit"}, "mark": {"type": "line", "color": "#1414e6", "strokeWidth": 3.5, "interpolate": "monotone"},
   "encoding": {
    "x": {"field": "t", "type": "quantitative", "scale": {"domain": [-7, 7], "nice": false, "zero": false},
      "axis": {"orient": "bottom", "values": [-6,-4,-2,0,2,4,6], "tickSize": -8, "tickColor": "#808080", "tickWidth": 1.5, "labels": false, "title": null}},
    "y": {"field": "f", "type": "quantitative", "scale": {"domain": [0, 45], "nice": false, "zero": false},
      "axis": {"orient": "left", "values": [10,20,30,40], "tickSize": -9, "tickColor": "#808080", "tickWidth": 1.5, "labelPadding": 13, "labelFont": "Liberation Sans Narrow, Liberation Sans", "labelFontSize": 25, "labelColor": "#333", "labelFlush": false, "labelOverlap": false,
       "title": "B\u0305\u00b0 Tags", "titleFont": "Liberation Sans", "titleFontSize": 34, "titleFontWeight": "normal", "titleColor": "#333", "titlePadding": 6}}}},
  {"data": {"name": "rbpts"}, "mark": {"type": "point", "filled": true, "color": "#000", "opacity": 1, "size": 55},
   "encoding": {
    "x": {"field": "t", "type": "quantitative", "scale": {"domain": [-7, 7], "nice": false, "zero": false}, "axis": null},
    "y": {"field": "n", "type": "quantitative", "scale": {"domain": [0, 45], "nice": false, "zero": false}, "axis": null}}},
  {"data": {"values": [{"t": "b)"}]}, "mark": {"type": "text", "align": "left", "baseline": "alphabetic", "font": "Liberation Sans Narrow, Liberation Sans", "fontSize": 30, "color": "#333"},
   "encoding": {"x": {"datum": -6.27, "type": "quantitative", "scale": {"domain": [-7, 7], "nice": false, "zero": false}, "axis": null},
    "y": {"datum": 32.7, "type": "quantitative", "scale": {"domain": [0, 45], "nice": false, "zero": false}, "axis": null}, "text": {"field": "t"}}},
  {"data": {"values": [{"t": "B\u0305\u2070 tags"}]}, "mark": {"type": "text", "align": "left", "baseline": "alphabetic", "font": "DejaVu Sans", "fontSize": 40, "color": "#e8202a"},
   "encoding": {"x": {"datum": 2.66, "type": "quantitative", "scale": {"domain": [-7, 7], "nice": false, "zero": false}, "axis": null},
    "y": {"datum": 23.2, "type": "quantitative", "scale": {"domain": [0, 45], "nice": false, "zero": false}, "axis": null}, "text": {"field": "t"}}}
 ]},
{"width": 592, "height": 251,
 "view": {"stroke": "#8a8a8a", "strokeWidth": 1.5},
 "resolve": {"axis": {"x": "independent", "y": "independent"}},
 "layer": [
  {"data": {"values": [{"k": 1}]}, "mark": {"type": "rule", "color": "#b8b8b8", "strokeWidth": 4},
   "encoding": {"y": {"datum": 0, "type": "quantitative", "scale": {"domain": [-1.1, 1.1], "nice": false, "zero": false}, "axis": null}}},
  {"data": {"name": "rcpts"}, "mark": {"type": "rule", "color": "#6a6a6a", "strokeWidth": 1.5},
   "encoding": {
    "x": {"field": "tlo", "type": "quantitative", "scale": {"domain": [-7, 7], "nice": false, "zero": false},
      "axis": {"orient": "top", "values": [-6,-4,-2,0,2,4,6], "tickSize": -10, "tickColor": "#808080", "tickWidth": 1.5, "labels": false, "title": null}},
    "x2": {"field": "thi"},
    "y": {"field": "a", "type": "quantitative", "scale": {"domain": [-1.1, 1.1], "nice": false, "zero": false},
      "axis": {"orient": "right", "values": [-1,-0.5,0,0.5,1], "tickSize": -18, "tickColor": "#808080", "tickWidth": 1.5, "labels": false, "title": null}}}},
  {"data": {"name": "rcpts"}, "mark": {"type": "rule", "color": "#6a6a6a", "strokeWidth": 1.5},
   "encoding": {
    "x": {"field": "t", "type": "quantitative", "scale": {"domain": [-7, 7], "nice": false, "zero": false},
      "axis": {"orient": "top", "values": [-6.5,-5.5,-5,-4.5,-3.5,-3,-2.5,-1.5,-1,-0.5,0.5,1,1.5,2.5,3,3.5,4.5,5,5.5,6.5], "tickSize": -5, "tickColor": "#808080", "tickWidth": 1.5, "labels": false, "title": null}},
    "y": {"field": "lo", "type": "quantitative", "scale": {"domain": [-1.1, 1.1], "nice": false, "zero": false},
      "axis": {"orient": "right", "values": [-0.9,-0.8,-0.7,-0.6,-0.4,-0.3,-0.2,-0.1,0.1,0.2,0.3,0.4,0.6,0.7,0.8,0.9], "tickSize": -9, "tickColor": "#808080", "tickWidth": 1.5, "labels": false, "title": null}},
    "y2": {"field": "hi"}}},
  {"data": {"name": "rcpts"}, "mark": {"type": "tick", "orient": "horizontal", "color": "#6a6a6a", "size": 6, "thickness": 1.5},
   "encoding": {
    "x": {"field": "t", "type": "quantitative", "scale": {"domain": [-7, 7], "nice": false, "zero": false}, "axis": null},
    "y": {"field": "hi", "type": "quantitative", "scale": {"domain": [-1.1, 1.1], "nice": false, "zero": false}, "axis": null}}},
  {"data": {"name": "rcpts"}, "mark": {"type": "tick", "orient": "horizontal", "color": "#6a6a6a", "size": 6, "thickness": 1.5},
   "encoding": {
    "x": {"field": "t", "type": "quantitative", "scale": {"domain": [-7, 7], "nice": false, "zero": false}, "axis": null},
    "y": {"field": "lo", "type": "quantitative", "scale": {"domain": [-1.1, 1.1], "nice": false, "zero": false}, "axis": null}}},
  {"data": {"name": "rcred"}, "mark": {"type": "line", "color": "#ff3535", "strokeWidth": 5, "strokeDash": [2, 1.5], "opacity": 0.85, "interpolate": "monotone"},
   "encoding": {
    "x": {"field": "t", "type": "quantitative", "scale": {"domain": [-7, 7], "nice": false, "zero": false},
      "axis": {"orient": "bottom", "values": [-6.5,-5.5,-5,-4.5,-3.5,-3,-2.5,-1.5,-1,-0.5,0.5,1,1.5,2.5,3,3.5,4.5,5,5.5,6.5], "tickSize": -5, "tickColor": "#808080", "tickWidth": 1.5, "labels": false, "title": null}},
    "y": {"field": "a", "type": "quantitative", "scale": {"domain": [-1.1, 1.1], "nice": false, "zero": false},
      "axis": {"orient": "left", "values": [-0.9,-0.8,-0.7,-0.6,-0.4,-0.3,-0.2,-0.1,0.1,0.2,0.3,0.4,0.6,0.7,0.8,0.9], "tickSize": -9, "tickColor": "#808080", "tickWidth": 1.5, "labels": false, "title": null}}}},
  {"data": {"name": "rcblue"}, "mark": {"type": "line", "color": "#1414e6", "strokeWidth": 3.5, "interpolate": "monotone"},
   "encoding": {
    "x": {"field": "t", "type": "quantitative", "scale": {"domain": [-7, 7], "nice": false, "zero": false},
      "axis": {"orient": "bottom", "values": [-6,-4,-2,0,2,4,6], "tickSize": -10, "tickColor": "#808080", "tickWidth": 1.5, "labelPadding": 17, "labelFont": "Liberation Sans Narrow, Liberation Sans", "labelFontSize": 24, "labelColor": "#333", "labelFlush": false, "labelOverlap": false, "labelExpr": "replace(format(datum.value, '~g'), '\u2212', '-')",
       "title": "\u0394t (ps)", "titleFont": "Liberation Sans Narrow, Liberation Sans", "titleFontSize": 28, "titleFontWeight": "normal", "titleColor": "#333", "titlePadding": 20}},
    "y": {"field": "a", "type": "quantitative", "scale": {"domain": [-1.1, 1.1], "nice": false, "zero": false},
      "axis": {"orient": "left", "values": [-1,-0.5,0,0.5,1], "tickSize": -18, "tickColor": "#808080", "tickWidth": 1.5, "labelPadding": 22, "labelFont": "Liberation Sans Narrow, Liberation Sans", "labelFontSize": 25, "labelColor": "#333", "labelFlush": false, "labelOverlap": false, "labelExpr": "replace(format(datum.value, '~g'), '\u2212', '-')",
       "title": "Asymmetry", "titleFont": "Liberation Sans", "titleFontSize": 34, "titleFontWeight": "normal", "titleColor": "#333", "titlePadding": 6}}}},
  {"data": {"name": "rcpts"}, "mark": {"type": "point", "filled": true, "color": "#000", "opacity": 1, "size": 55},
   "encoding": {
    "x": {"field": "t", "type": "quantitative", "scale": {"domain": [-7, 7], "nice": false, "zero": false}, "axis": null},
    "y": {"field": "a", "type": "quantitative", "scale": {"domain": [-1.1, 1.1], "nice": false, "zero": false}, "axis": null}}},
  {"data": {"values": [{"t": "c)"}]}, "mark": {"type": "text", "align": "left", "baseline": "alphabetic", "font": "Liberation Sans Narrow, Liberation Sans", "fontSize": 30, "color": "#333"},
   "encoding": {"x": {"datum": -6.27, "type": "quantitative", "scale": {"domain": [-7, 7], "nice": false, "zero": false}, "axis": null},
    "y": {"datum": 0.49, "type": "quantitative", "scale": {"domain": [-1.1, 1.1], "nice": false, "zero": false}, "axis": null}, "text": {"field": "t"}}},
  {"data": {"values": [{"k": "arrow"}]}, "mark": {"type": "rule", "color": "#ee1c1c", "strokeWidth": 2},
   "encoding": {"x": {"datum": -4.96, "type": "quantitative", "scale": {"domain": [-7, 7], "nice": false, "zero": false}, "axis": null},
    "y": {"datum": -1.9, "type": "quantitative", "scale": {"domain": [-1.1, 1.1], "nice": false, "zero": false}, "axis": null},
    "x2": {"datum": 2.3}, "y2": {"datum": -0.556}}},
  {"data": {"values": [{"k": "head"}]}, "mark": {"type": "point", "shape": "triangle", "filled": true, "color": "#ee1c1c", "opacity": 1, "size": 200, "angle": 63.4},
   "encoding": {"x": {"datum": 2.44, "type": "quantitative", "scale": {"domain": [-7, 7], "nice": false, "zero": false}, "axis": null},
    "y": {"datum": -0.54, "type": "quantitative", "scale": {"domain": [-1.1, 1.1], "nice": false, "zero": false}, "axis": null}}}
 ]}
], "spacing": 0, "bounds": "flush"}
],
"spacing": 474,
"bounds": "flush"
}
